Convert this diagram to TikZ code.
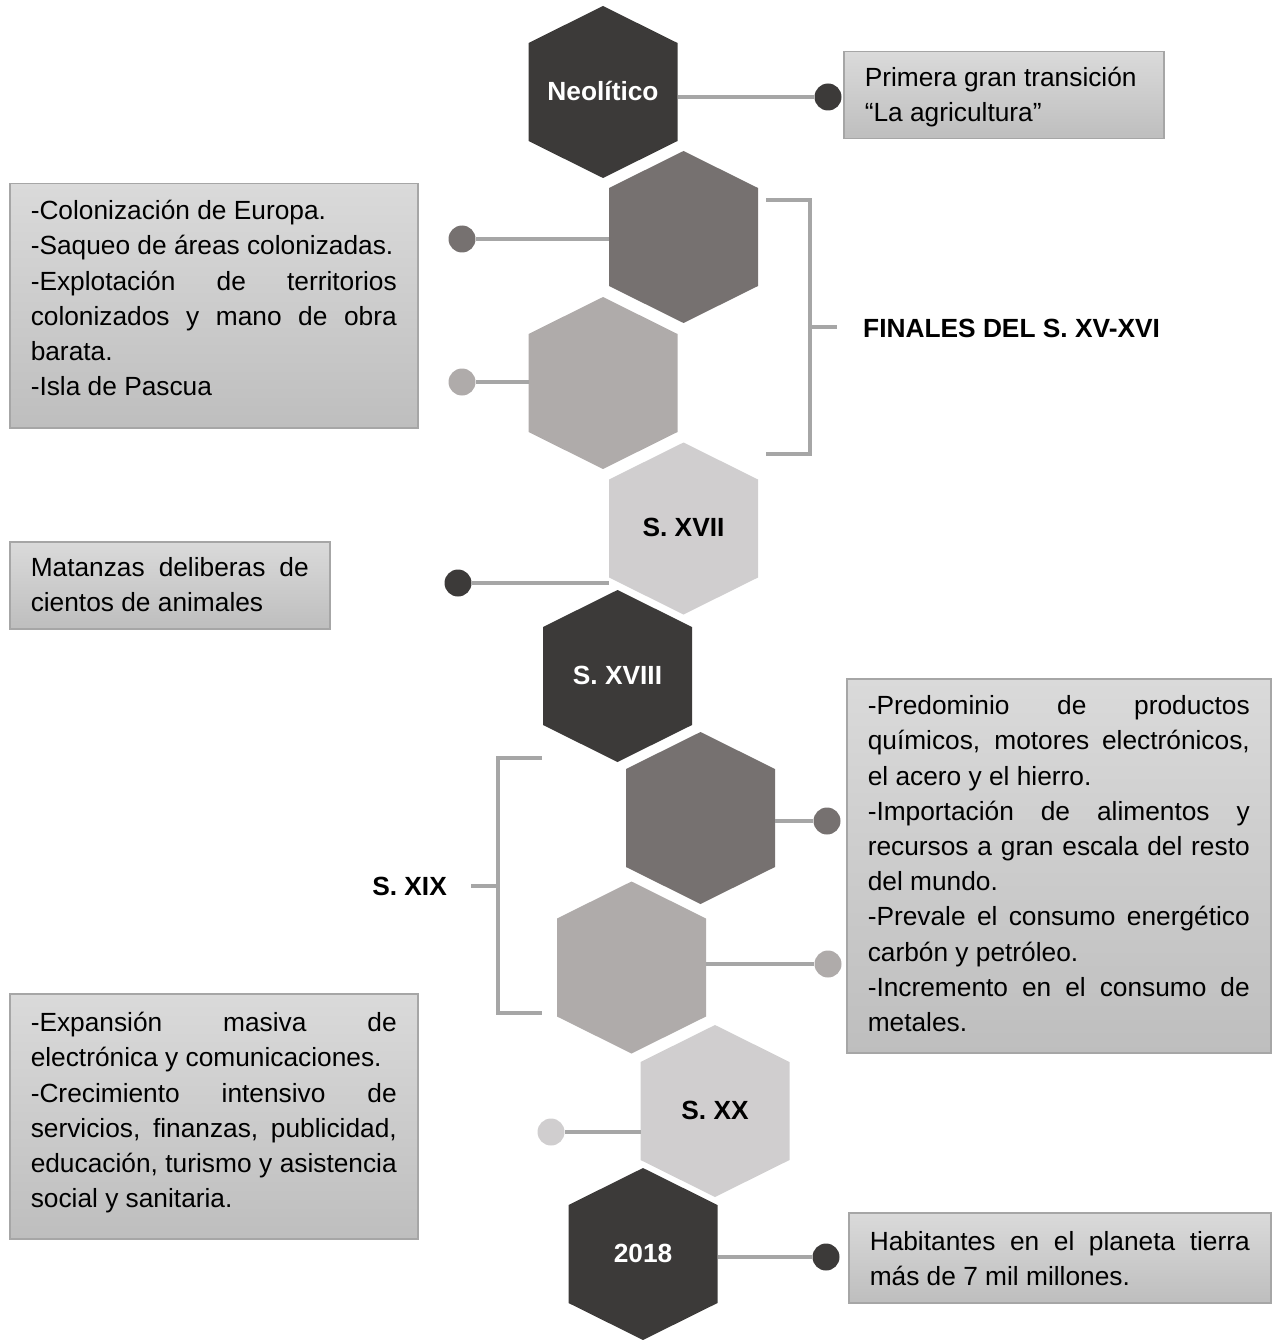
\documentclass[tikz,border=0pt]{standalone}
\usepackage{fontspec}
\setmainfont{Liberation Sans}
\hyphenpenalty=10000
\exhyphenpenalty=10000
\hbadness=10000

\definecolor{hexdark}{RGB}{60,58,57}
\definecolor{hexmid}{RGB}{118,113,112}
\definecolor{hexlight}{RGB}{175,171,170}
\definecolor{hexpale}{RGB}{208,206,207}
\definecolor{lineg}{RGB}{166,166,166}
\definecolor{boxtop}{RGB}{218,218,218}
\definecolor{boxbot}{RGB}{190,190,190}

\begin{document}
\begin{tikzpicture}[x=1pt, y=-1pt,
	font=\fontsize{26.3}{35.2}\selectfont,
	link/.style={draw=lineg, line width=3.5pt},
	bracket/.style={draw=lineg, line width=3.5pt},
	dot/.style={circle, fill=#1, minimum size=27pt, inner sep=0pt},
	box/.style={draw=lineg, line width=1.5pt, top color=boxtop, bottom color=boxbot,
		anchor=north west, inner xsep=21pt, inner ysep=0pt, align=justify},
	hexlabel/.style={font=\fontsize{26.3}{30}\selectfont\bfseries, inner sep=0pt,
		text height=18.8pt, text depth=0pt}]
	
	\useasboundingbox (0,0) rectangle (1272,1340);
	
	% --- Constants ---
	\def\hw{74.5}  % half width of a hexagon
	\def\hs{49}    % half length of its vertical side
	\def\hh{86}    % half height
	
	% =======================================================
	% HEXAGONS
	% =======================================================
	\foreach \n/\cx/\cy/\col/\txt/\tcol in {
		1/603/92/hexdark/Neolítico/white,
		2/683.5/237/hexmid//white,
		3/603/383/hexlight//black,
		4/683.5/528.5/hexpale/S. XVII/black,
		5/617.5/676/hexdark/S. XVIII/white,
		6/700.5/818/hexmid//white,
		7/631.5/967.5/hexlight//black,
		8/715/1111/hexpale/S. XX/black,
		9/643/1254/hexdark/2018/white} {
		\fill[\col] (\cx,\cy-\hh) -- (\cx+\hw,\cy-\hs) -- (\cx+\hw,\cy+\hs)
		-- (\cx,\cy+\hh) -- (\cx-\hw,\cy+\hs) -- (\cx-\hw,\cy-\hs) -- cycle;
		\node[hexlabel, text=\tcol] (h\n) at (\cx,\cy-1) {\txt};
		\coordinate (h\n-w) at (\cx-\hw,\cy);
		\coordinate (h\n-e) at (\cx+\hw,\cy);
	}
	
	% =======================================================
	% DOTS AND CONNECTORS
	% =======================================================
	\node[dot=hexdark]  (d1) at (828,97) {};
	\node[dot=hexmid]   (d2) at (462,239) {};
	\node[dot=hexlight] (d3) at (462,382) {};
	\node[dot=hexdark]  (d4) at (458,583) {};
	\node[dot=hexmid]   (d6) at (827,821) {};
	\node[dot=hexlight] (d7) at (828,964) {};
	\node[dot=hexpale]  (d8) at (551,1132) {};
	\node[dot=hexdark]  (d9) at (826,1257) {};
	
	\draw[link] (h1-e |- d1) -- (d1);
	\draw[link] (h2-w |- d2) -- (d2);
	\draw[link] (h3-w |- d3) -- (d3);
	\draw[link] (h4-w |- d4) -- (d4);
	\draw[link] (h6-e |- d6) -- (d6);
	\draw[link] (h7-e |- d7) -- (d7);
	\draw[link] (h8-w |- d8) -- (d8);
	\draw[link] (h9-e |- d9) -- (d9);
	
	% =======================================================
	% BRACKETS
	% =======================================================
	\draw[bracket] (766,200) -- (810,200) -- (810,454) -- (766,454);
	\node[hexlabel, anchor=west] (finales) at (863,328) {FINALES DEL S. XV-XVI};
	\draw[bracket] (810,327) -- (837,327);
	
	\draw[bracket] (542,758) -- (498,758) -- (498,1013) -- (542,1013);
	\node[hexlabel, anchor=east] (sxix) at (447,886) {S. XIX};
	\draw[bracket] (498,886) -- (471,886);
	
	% =======================================================
	% TEXT BOXES
	% =======================================================
	\node[box, text width=278pt, text height=35pt, text depth=52pt] (b1) at (843,51)
	{Primera gran transición\par “La agricultura”};
	
	\node[box, text width=366pt, text height=36pt, text depth=208pt] (b2) at (9,183)
	{-Colonización de Europa.\par
		-Saqueo de áreas colonizadas.\par
		-Explotación de territorios\linebreak colonizados y mano de obra\linebreak barata.\par
		-Isla de Pascua};
	
	\node[box, text width=278pt, text height=35pt, text depth=52pt] (b3) at (9,541)
	{Matanzas deliberas de\linebreak cientos de animales};
	
	\node[box, text width=382pt, text height=36pt, text depth=338pt] (b4) at (846,678)
	{-Predominio de productos\linebreak químicos, motores electrónicos,\linebreak el acero y el hierro.\par
		-Importación de alimentos y\linebreak recursos a gran escala del resto\linebreak del mundo.\par
		-Prevale el consumo energético\linebreak carbón y petróleo.\par
		-Incremento en el consumo de\linebreak metales.};
	
	\node[box, text width=366pt, text height=38pt, text depth=207pt] (b5) at (9,993)
	{-Expansión masiva de\linebreak electrónica y comunicaciones.\par
		-Crecimiento intensivo de\linebreak servicios, finanzas, publicidad,\linebreak educación, turismo y asistencia\linebreak social y sanitaria.};
	
	\node[box, text width=380pt, text height=38pt, text depth=52pt] (b6) at (848,1212)
	{Habitantes en el planeta tierra\linebreak más de 7 mil millones.};
	
\end{tikzpicture}
\end{document}
